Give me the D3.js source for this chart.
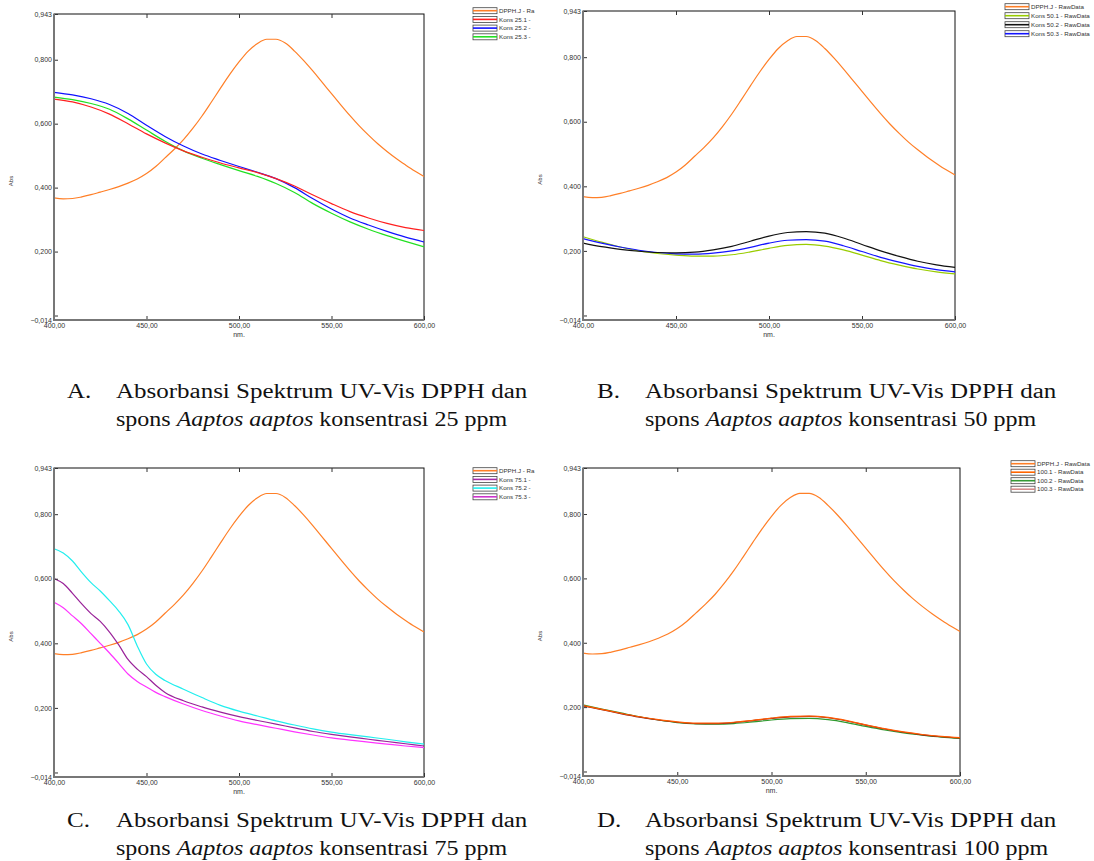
<!DOCTYPE html>
<html>
<head>
<meta charset="utf-8">
<script src="https://cdn.jsdelivr.net/npm/d3@7"></script>
<style>
  body { margin: 0; background: #fff; }
  svg { display: block; }
</style>
</head>
<body>
<svg id="chart" width="1094" height="861"></svg>
<script>
// wavelength grids (nm)
let wl_5 = [400,405,410,415,420,425,430,435,440,445,450,455,460,465,470,475,480,485,490,495,
            500,505,510,515,520,525,530,535,540,545,550,555,560,565,570,575,580,585,590,595,600];
let wl_10 = [400,410,420,430,440,450,460,470,480,490,500,510,520,530,540,550,560,570,580,590,600];
let wl_c = [400,405,410,415,420,425,430,435,440,445,450,455,460,
            470,480,490,500,510,520,530,540,550,560,570,580,590,600];

// DPPH blank (same in every panel)
let dpph = [0.368,0.365,0.366,0.371,0.378,0.386,0.394,0.403,0.414,0.427,0.444,0.466,0.493,0.520,
            0.550,0.585,0.624,0.667,0.711,0.754,0.793,0.827,0.851,0.864,0.864,0.852,0.827,0.797,
            0.764,0.729,0.694,0.659,0.625,0.593,0.564,0.537,0.513,0.491,0.471,0.452,0.435];

// 25 ppm
let kons_25_1 = [0.677,0.668,0.652,0.630,0.600,0.568,0.540,0.515,0.495,0.477,0.462,0.447,0.428,0.405,0.377,0.350,0.325,0.305,0.288,0.275,0.266];
let kons_25_2 = [0.698,0.690,0.678,0.660,0.632,0.595,0.560,0.530,0.505,0.485,0.466,0.448,0.428,0.400,0.365,0.333,0.305,0.283,0.263,0.245,0.230];
let kons_25_3 = [0.683,0.675,0.663,0.645,0.615,0.580,0.545,0.515,0.492,0.472,0.453,0.435,0.413,0.385,0.350,0.320,0.293,0.270,0.250,0.232,0.215];

// 50 ppm
let kons_50_1 = [0.244,0.227,0.212,0.200,0.192,0.187,0.184,0.184,0.188,0.197,0.208,0.217,0.220,0.215,0.203,0.187,0.170,0.156,0.144,0.135,0.129];
let kons_50_2 = [0.224,0.213,0.205,0.199,0.195,0.194,0.196,0.203,0.214,0.230,0.246,0.257,0.260,0.255,0.240,0.220,0.200,0.183,0.168,0.157,0.149];
let kons_50_3 = [0.238,0.224,0.212,0.202,0.195,0.191,0.190,0.193,0.200,0.211,0.224,0.233,0.235,0.230,0.216,0.198,0.180,0.165,0.152,0.142,0.135];

// 75 ppm
let kons_75_1 = [0.601,0.585,0.555,0.522,0.492,0.468,0.435,0.395,0.350,0.320,0.297,0.270,0.248,
                 0.222,0.203,0.187,0.173,0.161,0.150,0.138,0.127,0.118,0.110,0.103,0.096,0.089,0.082];
let kons_75_2 = [0.693,0.680,0.655,0.620,0.588,0.562,0.532,0.500,0.458,0.392,0.336,0.304,0.285,
                 0.258,0.232,0.208,0.190,0.175,0.160,0.147,0.135,0.125,0.117,0.110,0.103,0.095,0.088];
let kons_75_3 = [0.527,0.510,0.485,0.460,0.430,0.400,0.370,0.338,0.305,0.282,0.265,0.248,0.235,
                 0.212,0.192,0.175,0.160,0.148,0.137,0.126,0.116,0.107,0.100,0.094,0.088,0.082,0.077];

// 100 ppm
let kons_100_1 = [0.205,0.193,0.181,0.170,0.161,0.154,0.150,0.150,0.153,0.159,0.166,0.171,0.172,0.168,0.158,0.145,0.133,0.123,0.115,0.109,0.105];
let kons_100_2 = [0.207,0.194,0.182,0.170,0.160,0.152,0.148,0.147,0.149,0.154,0.160,0.164,0.165,0.161,0.152,0.140,0.129,0.120,0.113,0.107,0.103];
let kons_100_3 = [0.204,0.192,0.180,0.169,0.160,0.153,0.149,0.149,0.152,0.158,0.165,0.170,0.171,0.167,0.157,0.144,0.132,0.122,0.114,0.108,0.104];

// axes
let x_ticks = [400,450,500,550,600];
let y_ticks = [-0.014,0,0.2,0.4,0.6,0.8,0.943];
let y_domain = [-0.014,0.943];

// legend labels
let legend_a = ["DPPH.J - Ra","Kons 25.1 -","Kons 25.2 -","Kons 25.3 -"];
let legend_b = ["DPPH.J - RawData","Kons 50.1 - RawData","Kons 50.2 - RawData","Kons 50.3 - RawData"];
let legend_c = ["DPPH.J - Ra","Kons 75.1 -","Kons 75.2 -","Kons 75.3 -"];
let legend_d = ["DPPH.J - RawData","100.1 - RawData","100.2 - RawData","100.3 - RawData"];

// captions
let captions = [
  {tag: "A.", ppm: "25"},
  {tag: "B.", ppm: "50"},
  {tag: "C.", ppm: "75"},
  {tag: "D.", ppm: "100"}
];

// colors
let color_dpph = "#ff7f27";

let svg = d3.select("#chart");
let fmt_y = d => d === 0 ? "" : d3.format(".3f")(d).replace(".", ",");
let fmt_x = d => d3.format(".2f")(d).replace(".", ",");
let sans = "Liberation Sans, Arial, sans-serif";

let panels = [
  {box: {x0: 54, x1: 424, y0: 14, y1: 320}, legend: {x: 473, y: 10.7, dy: 8.7}, labels: legend_a,
   series: [
     {wl: wl_5, v: dpph, c: color_dpph},
     {wl: wl_10, v: kons_25_3, c: "#22e022"},
     {wl: wl_10, v: kons_25_2, c: "#1010ff"},
     {wl: wl_10, v: kons_25_1, c: "#ff2020"}
   ], keys: [color_dpph, "#ff2020", "#1010ff", "#22e022"]},
  {box: {x0: 583, x1: 955, y0: 11, y1: 320}, legend: {x: 1005, y: 6.7, dy: 9}, labels: legend_b,
   series: [
     {wl: wl_5, v: dpph, c: color_dpph},
     {wl: wl_10, v: kons_50_1, c: "#99cc00"},
     {wl: wl_10, v: kons_50_3, c: "#1414ff"},
     {wl: wl_10, v: kons_50_2, c: "#111111"}
   ], keys: [color_dpph, "#99cc00", "#111111", "#1414ff"]},
  {box: {x0: 54, x1: 424, y0: 468, y1: 777}, legend: {x: 473, y: 470.7, dy: 8.7}, labels: legend_c,
   series: [
     {wl: wl_5, v: dpph, c: color_dpph},
     {wl: wl_c, v: kons_75_2, c: "#22eeee"},
     {wl: wl_c, v: kons_75_1, c: "#992299"},
     {wl: wl_c, v: kons_75_3, c: "#ff33ff"}
   ], keys: [color_dpph, "#a52aa5", "#22eeee", "#cc33cc"]},
  {box: {x0: 583, x1: 960, y0: 468, y1: 776}, legend: {x: 1011, y: 463.7, dy: 8.5}, labels: legend_d,
   series: [
     {wl: wl_5, v: dpph, c: color_dpph},
     {wl: wl_10, v: kons_100_2, c: "#2e9a2e"},
     {wl: wl_10, v: kons_100_3, c: "#8b1a1a"},
     {wl: wl_10, v: kons_100_1, c: "#ff5a00"}
   ], keys: [color_dpph, "#ff6600", "#339933", "#d48a8a"]}
];

function draw_panel(p) {
  let b = p.box;
  let x = d3.scaleLinear().domain([400, 600]).range([b.x0, b.x1]);
  let y = d3.scaleLinear().domain(y_domain).range([b.y1, b.y0]);
  let g = svg.append("g");

  // frame: top and right black, left and bottom gray
  g.append("rect")
   .attr("x", b.x0).attr("y", b.y0)
   .attr("width", b.x1 - b.x0).attr("height", b.y1 - b.y0)
   .attr("fill", "none").attr("stroke", "#111").attr("stroke-width", 1);

  // curves
  let line = d3.line().curve(d3.curveMonotoneX);
  p.series.forEach(s => {
    g.append("path")
     .attr("d", line(s.wl.map((w, i) => [x(w), y(s.v[i])])))
     .attr("fill", "none")
     .attr("stroke", s.c)
     .attr("stroke-width", 1.2);
  });

  // axes
  let ya = g.append("g").attr("transform", `translate(${b.x0},0)`)
    .call(d3.axisLeft(y).tickValues(y_ticks).tickFormat(fmt_y).tickSizeInner(-4).tickSizeOuter(0).tickPadding(2));
  let xa = g.append("g").attr("transform", `translate(0,${b.y1})`)
    .call(d3.axisBottom(x).tickValues(x_ticks).tickFormat(fmt_x).tickSizeInner(-4).tickSizeOuter(0).tickPadding(3));
  let ta = g.append("g").attr("transform", `translate(0,${b.y0})`)
    .call(d3.axisTop(x).tickValues(x_ticks.slice(1, -1)).tickFormat("").tickSizeInner(-4).tickSizeOuter(0));

  [ya, xa, ta].forEach(a => {
    a.select(".domain").remove();
    a.selectAll("line").attr("stroke", "#333");
    a.selectAll("text").attr("font-family", sans)
      .attr("font-size", 7).attr("fill", "#333");
  });

  g.append("line").attr("x1", b.x0).attr("x2", b.x0).attr("y1", b.y0).attr("y2", b.y1 + 1)
   .attr("stroke", "#777").attr("stroke-width", 2);
  g.append("line").attr("x1", b.x0).attr("x2", b.x1).attr("y1", b.y1).attr("y2", b.y1)
   .attr("stroke", "#777").attr("stroke-width", 2);

  // axis titles
  g.append("text")
   .attr("x", x(500)).attr("y", b.y1 + 17)
   .attr("text-anchor", "middle")
   .attr("font-family", sans).attr("font-size", 7).attr("fill", "#333")
   .text("nm.");
  let ymid = (b.y0 + b.y1) / 2 + 14;
  g.append("text")
   .attr("transform", `translate(${b.x0 - 41},${ymid}) rotate(-90)`)
   .attr("text-anchor", "middle")
   .attr("font-family", sans).attr("font-size", 6).attr("fill", "#333")
   .text("Abs");

  // legend
  let lg = g.append("g");
  p.labels.forEach((t, i) => {
    let ly = p.legend.y + i * p.legend.dy;
    lg.append("rect")
      .attr("x", p.legend.x).attr("y", ly - 3)
      .attr("width", 24).attr("height", 6)
      .attr("fill", "#fff").attr("stroke", "#444").attr("stroke-width", 0.8);
    lg.append("line")
      .attr("x1", p.legend.x).attr("x2", p.legend.x + 24)
      .attr("y1", ly).attr("y2", ly)
      .attr("stroke", p.keys[i]).attr("stroke-width", 1.6);
    lg.append("text")
      .attr("x", p.legend.x + 26).attr("y", ly)
      .attr("dy", "0.35em")
      .attr("font-family", sans).attr("font-size", 6.2).attr("fill", "#333")
      .text(t);
  });
}

panels.forEach(draw_panel);

// captions under each panel (the source figure is stretched horizontally)
let cap_pos = [[67, 116, 398], [597, 645, 398], [67, 116, 827], [597, 645, 827]];
let serif = "Liberation Serif, Times New Roman, serif";
captions.forEach((c, i) => {
  let [tx, cx, cy] = cap_pos[i];
  svg.append("text").attr("transform", `translate(${tx},${cy}) scale(1.25,1)`)
     .attr("font-family", serif).attr("font-size", 20).attr("fill", "#111")
     .text(c.tag);
  svg.append("text").attr("transform", `translate(${cx},${cy}) scale(1.25,1)`)
     .attr("font-family", serif).attr("font-size", 20).attr("fill", "#111")
     .text("Absorbansi Spektrum UV-Vis DPPH dan");
  let t2 = svg.append("text").attr("transform", `translate(${cx},${cy + 28}) scale(1.2,1)`)
     .attr("font-family", serif).attr("font-size", 20).attr("fill", "#111");
  t2.append("tspan").text("spons ");
  t2.append("tspan").attr("font-style", "italic").text("Aaptos aaptos");
  t2.append("tspan").text(" konsentrasi " + c.ppm + " ppm");
});
</script>
</body>
</html>
